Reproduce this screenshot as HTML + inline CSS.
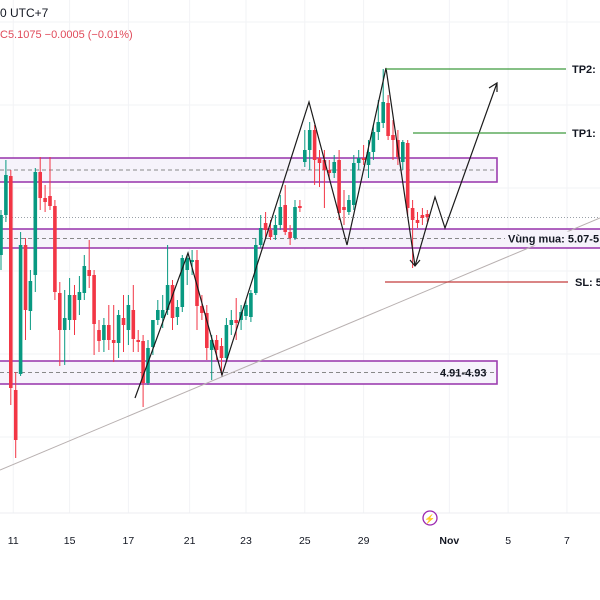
<!DOCTYPE html>
<html><head><meta charset="utf-8"><style>
html,body{margin:0;padding:0;background:#fff;width:600px;height:600px;overflow:hidden}
svg{display:block;font-family:"Liberation Sans",sans-serif}
</style></head><body>
<svg id="chart" width="600" height="600" viewBox="0 0 600 600">
<g id="grid"></g>
<g id="zones"></g>
<line x1="0" y1="470" x2="600" y2="218" stroke="#b8b0b0" stroke-width="1"/>
<g id="candles"></g>
<g id="draw"></g>
<text x="0" y="17" font-size="12" fill="#131722">0 UTC+7</text>
<text x="0" y="38" font-size="11" fill="#e04a5a">C5.1075  −0.0005 (−0.01%)</text>
<line x1="0" y1="513" x2="600" y2="513" stroke="#eceef2"/>
<g id="xaxis"></g>
<g><circle cx="430" cy="518" r="7" fill="#fff" stroke="#9c27b0" stroke-width="1.3"/><text x="430" y="522" font-size="9" fill="#9c27b0" text-anchor="middle">⚡</text></g>
</svg>
<script>
const opens=[5.037,5.077,5.116,4.902,4.918,5.047,4.981,5.017,5.120,5.094,5.096,5.086,4.999,4.962,4.972,4.997,4.992,4.999,5.022,5.017,4.962,4.952,4.967,4.952,4.949,4.974,4.962,4.982,4.952,4.951,4.909,4.945,4.972,4.974,4.982,5.007,4.975,4.985,5.022,5.030,5.032,4.986,4.979,4.942,4.952,4.946,4.934,4.967,4.972,4.972,4.976,4.975,4.999,5.047,5.069,5.062,5.057,5.067,5.087,5.060,5.054,5.086,5.130,5.142,5.162,5.134,5.132,5.122,5.119,5.132,5.085,5.080,5.087,5.129,5.134,5.127,5.140,5.160,5.169,5.189,5.157,5.152,5.130,5.149,5.084,5.072,5.077,5.078];
const highs=[5.082,5.132,5.122,4.920,5.060,5.054,5.022,5.124,5.135,5.107,5.135,5.092,5.010,5.002,5.014,5.007,5.016,5.037,5.052,5.022,4.972,4.974,4.987,4.987,4.982,4.997,4.997,5.007,4.962,4.957,4.952,4.962,4.992,4.997,5.047,5.012,4.992,5.037,5.037,5.042,5.042,4.997,4.987,4.957,4.957,4.954,4.974,4.982,4.994,4.987,4.992,5.002,5.054,5.077,5.080,5.072,5.077,5.097,5.107,5.067,5.092,5.092,5.162,5.170,5.167,5.142,5.142,5.132,5.137,5.142,5.102,5.097,5.137,5.142,5.147,5.152,5.167,5.192,5.223,5.197,5.172,5.162,5.152,5.152,5.092,5.080,5.084,5.082];
const lows=[5.022,5.070,4.887,4.834,4.916,4.952,4.962,5.000,5.082,5.080,5.082,4.992,4.926,4.927,4.962,4.957,4.977,4.992,5.004,4.937,4.940,4.940,4.942,4.930,4.934,4.940,4.947,4.940,4.940,4.885,4.907,4.937,4.967,4.964,4.977,4.962,4.967,4.980,5.007,5.017,4.962,4.972,4.932,4.912,4.932,4.917,4.932,4.957,4.952,4.962,4.972,4.970,4.997,5.044,5.054,5.052,5.052,5.062,5.057,5.047,5.052,5.080,5.125,5.122,5.107,5.105,5.084,5.112,5.114,5.072,5.067,5.077,5.082,5.122,5.127,5.114,5.132,5.152,5.164,5.152,5.132,5.127,5.122,5.077,5.024,5.064,5.067,5.070];
const closes=[5.077,5.117,4.904,4.852,5.047,4.982,5.011,5.120,5.094,5.090,5.086,5.000,4.962,4.974,4.997,4.972,5.000,5.026,5.016,4.968,4.951,4.967,4.952,4.949,4.977,4.967,4.987,4.953,4.950,4.909,4.944,4.972,4.982,4.982,5.007,4.974,4.985,5.034,5.034,5.032,4.986,4.979,4.944,4.952,4.942,4.934,4.967,4.972,4.969,4.980,4.987,4.999,5.047,5.064,5.062,5.055,5.067,5.085,5.060,5.054,5.085,5.084,5.142,5.162,5.132,5.129,5.122,5.119,5.130,5.079,5.082,5.092,5.129,5.134,5.132,5.140,5.160,5.170,5.190,5.156,5.152,5.135,5.150,5.084,5.072,5.069,5.074,5.075];
const dateLabels=["11","15","17","21","23","25","29","Nov","5","7"];
const dateBarIdx=[2.5,14,26,38.5,50,62,74,91.5,103.5,115.5];
const levels={tp2:5.223,tp1:5.159};
const NS="http://www.w3.org/2000/svg";
function mk(tag,attrs,parent){const e=document.createElementNS(NS,tag);for(const k in attrs)e.setAttribute(k,attrs[k]);parent.appendChild(e);return e;}
const y=p=>(5.292-p)*1000;
const x=i=>1+i*4.9;
const G=document.getElementById('grid');
for(let k=0;k<dateBarIdx.length;k++){const l=mk('line',{x1:x(dateBarIdx[k]),x2:x(dateBarIdx[k]),y1:0,y2:513,stroke:'#f2f3f6'},G);

}
for(let gy=22;gy<513;gy+=83){const l=mk('line',{x1:0,x2:600,y1:gy,y2:gy,stroke:'#f2f3f6'},G);

}
const Z=document.getElementById('zones');
function zone(name,x2,top,bot,label,lx){
 const g=mk('g',{},Z);
 
 
 mk('rect',{x:-2,y:y(top),width:x2+2,height:y(bot)-y(top),fill:'#f6f3fb',stroke:'#9c3fb0','stroke-width':1.6},g);
 const mid=(y(top)+y(bot))/2;
 mk('line',{x1:0,x2:x2,y1:mid,y2:mid,stroke:'#888','stroke-dasharray':'4 3'},g);
 if(label){const t=mk('text',{x:lx,y:mid+4,'font-size':11,'font-weight':'bold',fill:'#131722'},g);t.textContent=label;}
}
zone('resistance-zone',497,5.134,5.110,null,0);
zone('buy-zone',602,5.063,5.044,null,0);
zone('support-zone',497,4.931,4.908,'4.91-4.93',440);
const dl=mk('line',{x1:0,x2:600,y1:y(5.0745),y2:y(5.0745),stroke:'#9aa0a8','stroke-dasharray':'1 2'},Z);


const C=document.getElementById('candles');
for(let i=0;i<opens.length;i++){
 const up=closes[i]>=opens[i];const col=up?'#089981':'#f23645';const cx=x(i);
 const g=mk('g',{},C);
 
 
 mk('line',{x1:cx,x2:cx,y1:y(highs[i]),y2:y(lows[i]),stroke:col,'stroke-width':1},g);
 const t=y(Math.max(opens[i],closes[i])),b=y(Math.min(opens[i],closes[i]));
 mk('rect',{x:cx-1.8,y:t,width:3.6,height:Math.max(1,b-t),fill:col},g);
}
const D=document.getElementById('draw');
const z1=mk('polyline',{points:'135,398 188,253 222,375 309,102 347,245 386,68 415,266',fill:'none',stroke:'#1b1b1b','stroke-width':1.2},D);


const z2=mk('polyline',{points:'415,266 435,197 445,228 497,83',fill:'none',stroke:'#1b1b1b','stroke-width':1.2},D);


const a1=mk('polyline',{points:'489,88 497,83 497,92',fill:'none',stroke:'#1b1b1b','stroke-width':1.2},D);


const a2=mk('polyline',{points:'410,260 415,266 420,260',fill:'none',stroke:'#1b1b1b','stroke-width':1.2},D);


function hline(name,x1,x2,py,col,label,lx){
 const g=mk('g',{},D);
 
 
 mk('line',{x1:x1,x2:x2,y1:y(py),y2:y(py),stroke:col,'stroke-width':1.3},g);
 const t=mk('text',{x:lx,y:y(py)+4,'font-size':11,'font-weight':'bold',fill:'#131722'},g);t.textContent=label;
}
hline('tp2-line',386,566,levels.tp2,'#3d9a3d','TP2:',572);
hline('tp1-line',413,566,levels.tp1,'#3d9a3d','TP1:',572);
hline('sl-line',385,568,5.010,'#c43c3c','SL: 5',575);
const bl=mk('rect',{x:505,y:y(5.0535)-7,width:95,height:14,fill:'#f6f3fb'},D);


const bt=mk('text',{x:508,y:y(5.0535)+4,'font-size':11,'font-weight':'bold',fill:'#131722'},D);
bt.textContent='Vùng mua: 5.07-5';


const X=document.getElementById('xaxis');
for(let k=0;k<dateLabels.length;k++){
 const t=mk('text',{x:x(dateBarIdx[k]),y:544,'font-size':10.5,'text-anchor':'middle',fill:'#131722','font-weight':dateLabels[k]==='Nov'?'bold':'normal'},X);
 t.textContent=dateLabels[k];
 
 
}
</script>
</body></html>
